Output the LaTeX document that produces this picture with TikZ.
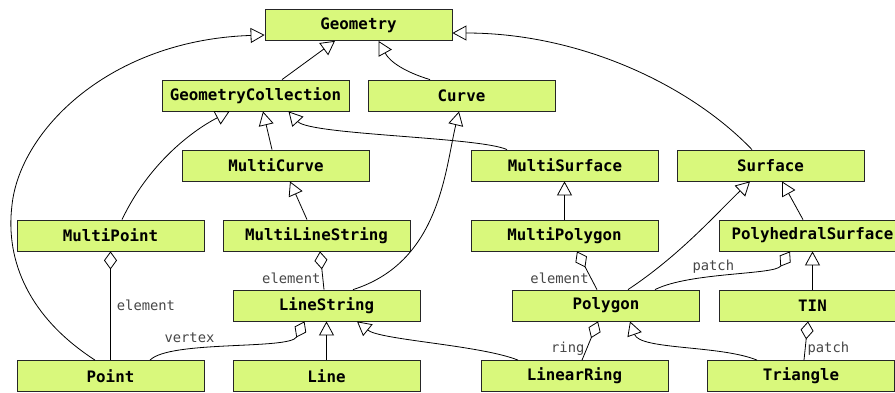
\documentclass[tikz,border=0pt]{standalone}
\usepackage{fontspec}
\setmonofont{DejaVu Sans Mono}
\usetikzlibrary{arrows.meta}
\definecolor{classfill}{RGB}{217,248,124}
\definecolor{rolegray}{RGB}{70,70,70}
\begin{document}
\begin{tikzpicture}[x=1pt,y=-1pt,
	cls/.style={draw=black!85,fill=classfill,line width=0.8pt,minimum width=187pt,minimum height=31pt,inner sep=0pt,font=\fontsize{15.8}{18}\selectfont\ttfamily\bfseries},
	isa/.style={-{Triangle[open,length=14pt,width=15pt]},line width=0.8pt},
	part/.style={-{Diamond[open,length=18pt,width=13pt]},line width=0.8pt},
	role/.style={font=\fontsize{13.8}{16}\selectfont\ttfamily,text=rolegray,inner sep=2pt}]
	\useasboundingbox (0,0) rectangle (895,392);
	% classes, row by row
	\node[cls] (geo) at (358.5,25) {Geometry};
	\node[cls] (gc) at (255.5,95.5) {GeometryCollection};
	\node[cls] (curve) at (461.5,95.5) {Curve};
	\node[cls] (mcurve) at (276,165.5) {MultiCurve};
	\node[cls] (msurf) at (565,165.5) {MultiSurface};
	\node[cls] (surf) at (770.5,165.5) {Surface};
	\node[cls] (mpoint) at (110.5,235.5) {MultiPoint};
	\node[cls] (mls) at (316.5,235.5) {MultiLineString};
	\node[cls] (mpoly) at (564.5,235.5) {MultiPolygon};
	\node[cls] (phs) at (812.5,235.5) {PolyhedralSurface};
	\node[cls] (ls) at (326.5,305.5) {LineString};
	\node[cls] (poly) at (606,305.5) {Polygon};
	\node[cls] (tin) at (812.5,305.5) {TIN};
	\node[cls] (point) at (110.5,376) {Point};
	\node[cls] (line) at (326.5,376) {Line};
	\node[cls] (lring) at (574.5,376) {LinearRing};
	\node[cls] (tri) at (801,376) {Triangle};
	% inheritance
	\draw[isa] ([xshift=26.5pt]gc.north) -- ([xshift=-23.5pt]geo.south);
	\draw[isa] ([xshift=-31.5pt]curve.north) .. controls (405,72) and (390,62) .. ([xshift=20pt]geo.south);
	\draw[isa] ([xshift=-15.5pt]point.north) .. controls (30,318) and (5,262) .. (12,205) .. controls (20,130) and (110,40) .. ([yshift=-10pt]geo.west);
	\draw[isa] ([xshift=-18.5pt]surf.north) .. controls (690,85) and (580,33) .. ([yshift=-8pt]geo.east);
	\draw[isa] ([xshift=11.5pt]mpoint.north) .. controls (148,165) and (190,132) .. ([xshift=-26pt]gc.south);
	\draw[isa] ([xshift=-4pt]mcurve.north) -- ([xshift=7.5pt]gc.south);
	\draw[isa] ([xshift=-58pt]msurf.north) .. controls (480,137) and (310,135) .. ([xshift=33pt]gc.south);
	\draw[isa] ([xshift=26.5pt]ls.north) .. controls (440,262) and (445,170) .. ([xshift=-2.5pt]curve.south);
	\draw[isa] ([xshift=-9.5pt]mls.north) -- ([xshift=14pt]mcurve.south);
	\draw[isa] (mpoly.north) -- (mpoly.north |- msurf.south);
	\draw[isa] ([xshift=22pt]poly.north) .. controls (680,255) and (715,215) .. ([xshift=-20.5pt]surf.south);
	\draw[isa] ([xshift=-9.5pt]phs.north) -- ([xshift=11.5pt]surf.south);
	\draw[isa] (tin.north) -- (phs.south);
	\draw[isa] (line.north) -- (ls.south);
	\draw[isa] ([xshift=-56.5pt]lring.north) .. controls (480,345) and (380,340) .. ([xshift=30.5pt]ls.south);
	\draw[isa] ([xshift=-44pt]tri.north) .. controls (720,345) and (640,350) .. ([xshift=24pt]poly.south);
	% aggregation
	\draw[part] (point.north) -- node[role,right=4pt] {element} (mpoint.south);
	\draw[part] ([xshift=-2.5pt]ls.north) -- node[role,pos=0.3,left] {element} ([xshift=3.5pt]mls.south);
	\draw[part] ([xshift=39.5pt]point.north) .. controls (170,340) and (290,350) .. node[role,pos=0.3,above=3pt] {vertex} ([xshift=-22pt]ls.south);
	\draw[part] ([xshift=-9pt]poly.north) -- node[role,pos=0.3,left] {element} ([xshift=12.5pt]mpoly.south);
	\draw[part] ([xshift=49pt]poly.north) .. controls (690,272) and (775,275) .. node[role,pos=0.4,above] {patch} ([xshift=-22.5pt]phs.south);
	\draw[part] ([xshift=7.5pt]lring.north) -- node[role,pos=0.3,left] {ring} ([xshift=-8pt]poly.south);
	\draw[part] ([xshift=3pt]tri.north) -- node[role,pos=0.3,right] {patch} ([xshift=-4.5pt]tin.south);
\end{tikzpicture}
\end{document}
